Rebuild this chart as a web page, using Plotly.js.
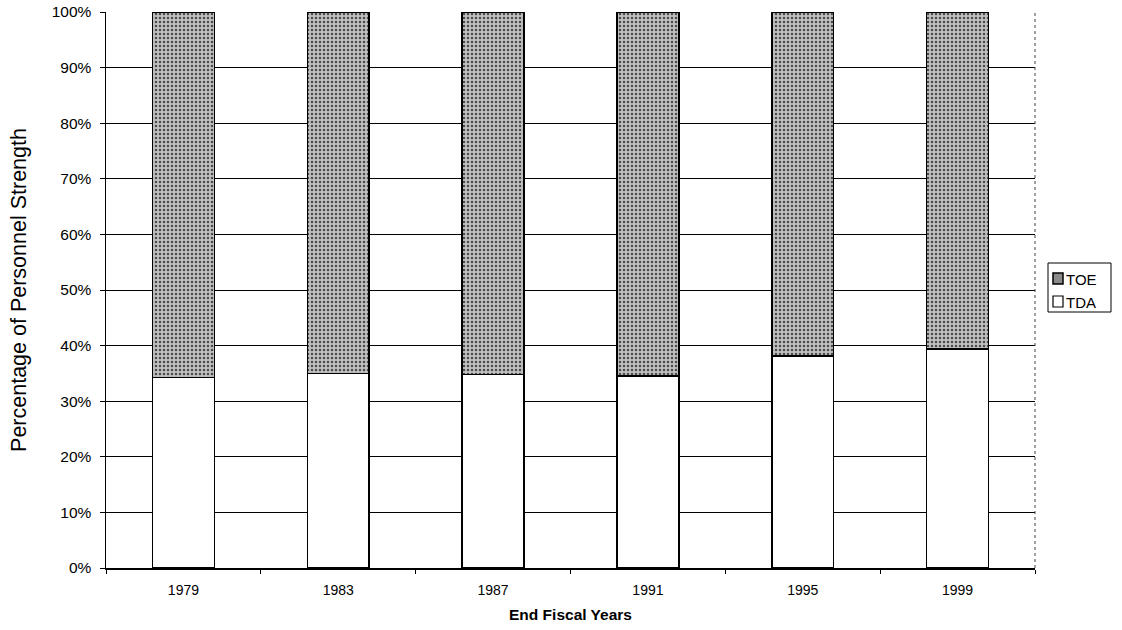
<!DOCTYPE html>
<html>
<head>
<meta charset="utf-8">
<script src="https://cdn.plot.ly/plotly-3.0.1.min.js"></script>
<style>html,body{margin:0;padding:0;background:#fff;}#chart{width:1122px;height:630px;}</style>
</head>
<body>
<div id="chart"></div>
<script>
const years = ['1979', '1983', '1987', '1991', '1995', '1999'];
const tdaShare = [34.3, 35.0, 34.8, 34.5, 38.1, 39.4];
const toeShare = [65.7, 65.0, 65.2, 65.5, 61.9, 60.6];
const yTicks = [0, 10, 20, 30, 40, 50, 60, 70, 80, 90, 100];
const yTickLabels = ['0%', '10%', '20%', '30%', '40%', '50%', '60%', '70%', '80%', '90%', '100%'];
const seriesNames = ['TOE', 'TDA'];

const W = 1122, H = 630;
const M = {l: 106, r: 87, t: 12, b: 62};
const plotW = W - M.l - M.r, plotH = H - M.t - M.b;
const px = x => (x - M.l) / plotW;
const py = y => (H - M.b - y) / plotH;

const traces = [
  {
    type: 'bar', name: 'TDA', x: years, y: tdaShare, width: 0.4,
    marker: {color: '#ffffff', line: {color: '#000000', width: 1.5}},
    hoverinfo: 'skip', showlegend: false
  },
  {
    type: 'bar', name: 'TOE', x: years, y: toeShare, width: 0.4,
    marker: {
      color: '#b0b0b0', line: {color: '#000000', width: 1.5},
      pattern: {shape: '.', fgcolor: '#4a4a4a', bgcolor: '#c0c0c0', size: 4, solidity: 0.32}
    },
    hoverinfo: 'skip', showlegend: false
  }
];

// legend drawn as box + symbols + text
const legendShapes = [
  {type: 'rect', xref: 'paper', yref: 'paper', x0: px(1048), x1: px(1111), y0: py(263), y1: py(312),
   line: {color: '#000', width: 1}, fillcolor: '#fff', layer: 'above'},
  {type: 'rect', xref: 'paper', yref: 'paper', x0: px(1053), x1: px(1063), y0: py(273), y1: py(284),
   line: {color: '#000', width: 1.5}, fillcolor: '#8a8a8a', layer: 'above'},
  {type: 'rect', xref: 'paper', yref: 'paper', x0: px(1053), x1: px(1063), y0: py(296), y1: py(307),
   line: {color: '#000', width: 1.2}, fillcolor: '#fff', layer: 'above'}
];
const legendTexts = [
  {xref: 'paper', yref: 'paper', x: px(1064), y: py(279), xanchor: 'left', yanchor: 'middle',
   text: seriesNames[0], showarrow: false, font: {size: 15}},
  {xref: 'paper', yref: 'paper', x: px(1064), y: py(302), xanchor: 'left', yanchor: 'middle',
   text: seriesNames[1], showarrow: false, font: {size: 15}}
];

const layout = {
  width: W, height: H,
  margin: M,
  paper_bgcolor: '#ffffff', plot_bgcolor: '#ffffff',
  barmode: 'stack',
  font: {family: 'Arial, "Liberation Sans", sans-serif', color: '#000000', size: 12},
  xaxis: {
    type: 'category', tickson: 'boundaries', ticks: 'outside', ticklen: 4, tickcolor: '#000',
    showline: true, linecolor: '#000', linewidth: 1.5, mirror: false,
    showgrid: false, zeroline: false, automargin: false,
    tickfont: {size: 14}, ticklabelstandoff: 9,
    title: {text: 'End Fiscal Years', font: {size: 15.5, weight: 'bold'}, standoff: 12}
  },
  yaxis: {
    range: [0, 100], tickvals: yTicks, ticktext: yTickLabels,
    ticks: 'outside', ticklen: 5, tickcolor: '#000',
    showline: true, linecolor: '#000', linewidth: 1.5, mirror: false,
    showgrid: true, gridcolor: '#000000', gridwidth: 1, zeroline: false, automargin: false,
    tickfont: {size: 15.5}, ticklabelstandoff: 5,
    title: {text: 'Percentage of Personnel Strength', font: {size: 21.5}, standoff: 19}
  },
  shapes: [
    {type: 'line', xref: 'paper', yref: 'paper', x0: 1, x1: 1, y0: 0, y1: 1,
     line: {color: '#444', width: 1, dash: 'dot'}}
  ].concat(legendShapes),
  annotations: legendTexts,
  showlegend: false
};

Plotly.newPlot('chart', traces, layout, {displayModeBar: false, staticPlot: true});
</script>
</body>
</html>
